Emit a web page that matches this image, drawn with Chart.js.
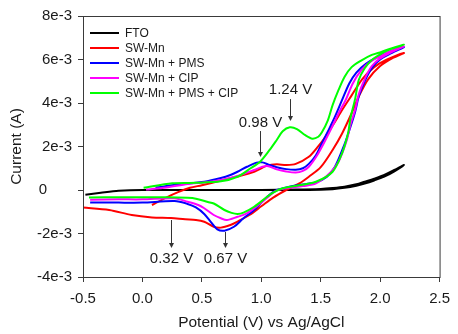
<!DOCTYPE html>
<html>
<head>
<meta charset="utf-8">
<script src="https://cdn.jsdelivr.net/npm/chart.js@4.4.1/dist/chart.umd.min.js"></script>
<style>
  html, body { margin: 0; padding: 0; background: #fff; }
  canvas { display: block; }
</style>
</head>
<body>
<canvas id="cv" width="458" height="334"></canvas>
<script>
// potentials (V) and currents (x1e-3 A)
const ftoE = [-0.48, -0.35, -0.2, 0.0, 0.5, 1.0, 1.3, 1.5, 1.6, 1.7, 1.8, 1.87, 1.95, 2.03, 2.12, 2.2,
  2.12, 2.03, 1.95, 1.87, 1.8, 1.7, 1.6, 1.4, 1.0];
const ftoI = [-0.22, -0.13, -0.04, 0.0, 0.0, 0.0, 0.02, 0.05, 0.09, 0.15, 0.26, 0.38, 0.52, 0.68, 0.92, 1.15,
  0.86, 0.6, 0.44, 0.3, 0.2, 0.1, 0.04, 0.0, 0.0];

const mnE = [0.08, 0.2, 0.3, 0.4, 0.5, 0.66, 0.8, 0.94, 1.05, 1.13, 1.21, 1.29, 1.4, 1.47, 1.54, 1.61, 1.68, 1.76, 1.85, 1.95, 2.05, 2.2,
  2.1, 2.0, 1.9, 1.82, 1.76, 1.68, 1.6, 1.5, 1.4, 1.32, 1.21, 1.1, 1.0, 0.9, 0.8, 0.74, 0.66, 0.6, 0.52, 0.45, 0.36, 0.24, 0.08, -0.09, -0.28, -0.5];
const mnI = [-0.69, -0.35, -0.1, 0.1, 0.22, 0.43, 0.62, 0.84, 1.12, 1.18, 1.15, 1.2, 1.53, 1.95, 2.45, 3.05, 3.68, 4.35, 5.1, 5.65, 5.98, 6.3,
  6.05, 5.7, 5.1, 4.3, 3.53, 2.6, 1.84, 1.05, 0.61, 0.3, 0.0, -0.35, -0.75, -1.15, -1.45, -1.61, -1.73, -1.69, -1.46, -1.38, -1.35, -1.29, -1.26, -1.15, -0.92, -0.81];

const pmsE = [0.11, 0.3, 0.52, 0.66, 0.74, 0.8, 0.88, 0.96, 1.01, 1.07, 1.13, 1.21, 1.29, 1.35, 1.4, 1.46, 1.51, 1.57, 1.62, 1.68, 1.74, 1.8, 1.88, 1.97, 2.08, 2.2,
  2.1, 2.0, 1.93, 1.87, 1.82, 1.79, 1.75, 1.7, 1.62, 1.55, 1.46, 1.38, 1.3, 1.21, 1.13, 1.05, 0.94, 0.85, 0.77, 0.69, 0.63, 0.58, 0.52, 0.45, 0.38, 0.27, 0.0, -0.2, -0.44];
const pmsI = [0.11, 0.25, 0.38, 0.55, 0.69, 0.84, 1.07, 1.26, 1.27, 1.15, 1.05, 0.96, 0.93, 1.0, 1.2, 1.6, 2.15, 2.8, 3.37, 4.14, 4.9, 5.4, 5.8, 6.1, 6.35, 6.57,
  6.3, 6.0, 5.6, 5.0, 4.3, 3.6, 2.9, 2.1, 1.07, 0.6, 0.35, 0.28, 0.22, 0.12, 0.0, -0.31, -0.92, -1.3, -1.69, -1.87, -1.81, -1.5, -1.1, -0.8, -0.64, -0.51, -0.58, -0.58, -0.57];

const cipE = [0.03, 0.2, 0.38, 0.52, 0.66, 0.8, 0.94, 1.0, 1.05, 1.13, 1.21, 1.29, 1.35, 1.4, 1.47, 1.54, 1.6, 1.65, 1.71, 1.77, 1.84, 1.92, 2.02, 2.1, 2.2,
  2.1, 2.0, 1.93, 1.87, 1.82, 1.79, 1.75, 1.72, 1.65, 1.58, 1.46, 1.35, 1.21, 1.12, 1.05, 0.95, 0.87, 0.8, 0.71, 0.66, 0.6, 0.52, 0.47, 0.38, 0.27, 0.0, -0.2, -0.44];
const cipI = [0.02, 0.12, 0.28, 0.35, 0.46, 0.65, 0.92, 1.05, 1.1, 0.95, 0.85, 0.8, 0.88, 1.07, 1.6, 2.3, 2.95, 3.53, 4.14, 4.9, 5.5, 5.9, 6.2, 6.42, 6.6,
  6.35, 6.05, 5.7, 5.1, 4.4, 3.7, 3.0, 2.3, 1.3, 0.8, 0.3, 0.18, 0.08, -0.05, -0.35, -0.8, -1.1, -1.23, -1.38, -1.3, -1.15, -0.84, -0.69, -0.54, -0.38, -0.43, -0.43, -0.45];

const bothE = [0.01, 0.25, 0.45, 0.66, 0.8, 0.91, 0.99, 1.07, 1.13, 1.18, 1.24, 1.3, 1.37, 1.43, 1.48, 1.51, 1.56, 1.6, 1.65, 1.7, 1.76, 1.84, 1.93, 2.01, 2.1, 2.2,
  2.1, 2.04, 1.93, 1.87, 1.82, 1.79, 1.75, 1.73, 1.68, 1.6, 1.46, 1.3, 1.18, 1.1, 1.05, 0.94, 0.85, 0.8, 0.75, 0.69, 0.6, 0.55, 0.45, 0.38, 0.2, 0.0, -0.2, -0.45];
const bothI = [0.1, 0.31, 0.33, 0.4, 0.61, 1.0, 1.3, 1.84, 2.3, 2.7, 2.88, 2.8, 2.52, 2.36, 2.45, 2.65, 3.2, 3.9, 4.6, 5.2, 5.65, 5.95, 6.21, 6.35, 6.52, 6.68,
  6.5, 6.36, 5.98, 5.6, 5.06, 4.2, 3.3, 2.61, 1.7, 0.84, 0.38, 0.2, 0.08, -0.12, -0.31, -0.77, -1.04, -1.1, -1.05, -0.92, -0.62, -0.55, -0.4, -0.36, -0.33, -0.33, -0.33, -0.35];

const seriesNames = ['FTO', 'SW-Mn', 'SW-Mn + PMS', 'SW-Mn + CIP', 'SW-Mn + PMS + CIP'];
const seriesColors = ['#000000', '#ff0000', '#0000ff', '#ff00ff', '#00ff00'];
const seriesE = [ftoE, mnE, pmsE, cipE, bothE];
const seriesI = [ftoI, mnI, pmsI, cipI, bothI];

const xTicks = [-0.5, 0.0, 0.5, 1.0, 1.5, 2.0, 2.5];
const yTicks = [-4, -2, 0, 2, 4, 6, 8];

// peak markers: label, potential, label height, arrow start, arrow tip
const peaks = [
  { text: '1.24 V', E: 1.244, at: 4.6, from: 4.18, to: 3.17 },
  { text: '0.98 V', E: 0.988, at: 3.08, from: 2.71, to: 1.52 },
  { text: '0.32 V', E: 0.244, at: -3.17, from: -1.38, to: -2.67 },
  { text: '0.67 V', E: 0.693, at: -3.17, from: -1.93, to: -2.67 }
];

const axisColor = '#3a3a3a';
const textColor = '#1a1a1a';
const fontFamily = '"Liberation Sans", Arial, sans-serif';

const datasets = seriesNames.map((name, k) => ({
  label: name,
  data: seriesE[k].map((e, i) => ({ x: e, y: seriesI[k][i] })),
  borderColor: seriesColors[k],
  backgroundColor: seriesColors[k],
  borderWidth: 2,
  pointRadius: 0,
  showLine: true,
  tension: 0.3,
  order: seriesNames.length - 1 - k
}));

const framePlugin = {
  id: 'frame',
  afterDatasetsDraw(chart) {
    const { ctx, chartArea: a } = chart;
    ctx.save();
    ctx.strokeStyle = axisColor;
    ctx.lineWidth = 1;
    ctx.strokeRect(a.left + 0.5, a.top + 0.5, a.right - a.left, a.bottom - a.top);
    ctx.restore();
  }
};

const legendPlugin = {
  id: 'insideLegend',
  afterDraw(chart) {
    const ctx = chart.ctx;
    ctx.save();
    ctx.font = '12px ' + fontFamily;
    ctx.textBaseline = 'middle';
    chart.data.datasets.forEach((ds, i) => {
      const y = 33 + i * 15;
      ctx.strokeStyle = ds.borderColor;
      ctx.lineWidth = 2;
      ctx.beginPath();
      ctx.moveTo(90, y);
      ctx.lineTo(119, y);
      ctx.stroke();
      ctx.fillStyle = textColor;
      ctx.fillText(ds.label, 125, y + 1);
    });
    ctx.restore();
  }
};

const peakPlugin = {
  id: 'peaks',
  afterDraw(chart) {
    const { ctx, scales: { x, y } } = chart;
    ctx.save();
    ctx.font = '15px ' + fontFamily;
    ctx.textAlign = 'center';
    ctx.textBaseline = 'middle';
    peaks.forEach(p => {
      const px = Math.round(x.getPixelForValue(p.E)) + 0.5;
      const y1 = y.getPixelForValue(p.from);
      const y2 = y.getPixelForValue(p.to);
      ctx.fillStyle = textColor;
      ctx.fillText(p.text, px, y.getPixelForValue(p.at));
      ctx.strokeStyle = '#333';
      ctx.fillStyle = '#333';
      ctx.lineWidth = 1;
      ctx.beginPath();
      ctx.moveTo(px, y1);
      ctx.lineTo(px, y2 - 4);
      ctx.stroke();
      ctx.beginPath();
      ctx.moveTo(px - 2.5, y2 - 5);
      ctx.lineTo(px + 2.5, y2 - 5);
      ctx.lineTo(px, y2);
      ctx.closePath();
      ctx.fill();
    });
    ctx.restore();
  }
};

new Chart(document.getElementById('cv'), {
  type: 'scatter',
  data: { datasets },
  options: {
    responsive: false,
    animation: false,
    devicePixelRatio: 1,
    layout: { padding: { left: 0, right: 12, top: 16, bottom: 0 } },
    plugins: { legend: { display: false }, tooltip: { enabled: false } },
    scales: {
      x: {
        type: 'linear',
        min: -0.5,
        max: 2.5,
        afterBuildTicks: s => { s.ticks = xTicks.map(v => ({ value: v })); },
        afterFit: s => { s.height = 57; },
        grid: { display: true, drawOnChartArea: false, drawTicks: true, tickLength: 5, color: axisColor },
        border: { display: true, color: axisColor },
        ticks: {
          color: textColor,
          padding: 8,
          maxRotation: 0,
          font: { family: fontFamily, size: 15 },
          callback: v => v.toFixed(1)
        },
        title: {
          display: true,
          text: 'Potential (V) vs Ag/AgCl',
          color: textColor,
          font: { family: fontFamily, size: 15.5 },
          padding: { top: 0, bottom: 2 }
        }
      },
      y: {
        type: 'linear',
        min: -4,
        max: 8,
        afterBuildTicks: s => { s.ticks = yTicks.map(v => ({ value: v })); },
        afterFit: s => { s.width = 83; },
        grid: { display: true, drawOnChartArea: false, drawTicks: true, tickLength: 5, color: axisColor },
        border: { display: true, color: axisColor },
        ticks: {
          color: textColor,
          padding: 6,
          font: { family: fontFamily, size: 15 },
          callback: v => v === 0 ? '0      ' : v + 'e-3'
        },
        title: {
          display: true,
          text: 'Current (A)',
          color: textColor,
          font: { family: fontFamily, size: 15.5 },
          padding: { top: 7, bottom: 0 }
        }
      }
    }
  },
  plugins: [framePlugin, legendPlugin, peakPlugin]
});
</script>
</body>
</html>
